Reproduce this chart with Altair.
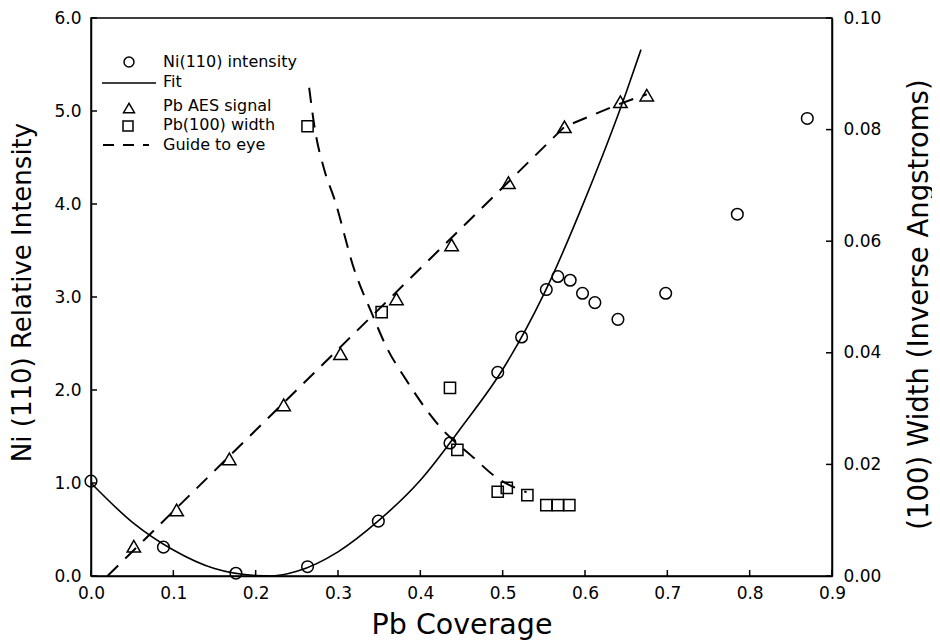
import altair as alt
import pandas as pd

# ---- data ----
ni_cov = [0.0, 0.088, 0.176, 0.263, 0.349, 0.436, 0.494, 0.523, 0.553, 0.567, 0.582, 0.597, 0.612, 0.640, 0.698, 0.785, 0.870]
ni_int = [1.02, 0.31, 0.03, 0.10, 0.59, 1.43, 2.19, 2.57, 3.08, 3.22, 3.18, 3.04, 2.94, 2.76, 3.04, 3.89, 4.92]

fit_cov = [0.0, 0.05, 0.10, 0.15, 0.20, 0.22, 0.25, 0.30, 0.35, 0.40, 0.45, 0.50, 0.55, 0.60, 0.65, 0.668]
fit_int = [1.0, 0.58, 0.28, 0.08, 0.005, 0.0, 0.05, 0.26, 0.60, 1.03, 1.60, 2.22, 3.03, 4.05, 5.20, 5.66]

aes_cov = [0.052, 0.104, 0.168, 0.234, 0.303, 0.371, 0.438, 0.507, 0.575, 0.643, 0.675]
aes_sig = [0.32, 0.71, 1.26, 1.84, 2.39, 2.98, 3.56, 4.23, 4.83, 5.10, 5.17]

aes_guide_cov = [0.02, 0.575, 0.643, 0.675]
aes_guide_sig = [0.0, 4.83, 5.08, 5.18]

w_cov = [0.263, 0.353, 0.436, 0.445, 0.494, 0.505, 0.530, 0.553, 0.567, 0.581]
w_val = [0.0806, 0.0473, 0.0337, 0.0226, 0.0151, 0.0158, 0.0145, 0.0127, 0.0127, 0.0127]

w_guide_cov = [0.265, 0.272, 0.283, 0.296, 0.320, 0.341, 0.359, 0.383, 0.424, 0.464, 0.492, 0.529]
w_guide_val = [0.0875, 0.080, 0.073, 0.0674, 0.0548, 0.0471, 0.041, 0.0351, 0.0267, 0.0213, 0.0177, 0.015]

x_ticks = [0.0, 0.1, 0.2, 0.3, 0.4, 0.5, 0.6, 0.7, 0.8, 0.9]
left_ticks = [0.0, 1.0, 2.0, 3.0, 4.0, 5.0, 6.0]
right_ticks = [0.0, 0.02, 0.04, 0.06, 0.08, 0.10]

legend_labels = ["Ni(110) intensity", "Fit", "Pb AES signal", "Pb(100) width", "Guide to eye"]

FONT = "DejaVu Sans"
W, H = 741, 558

xscale = alt.Scale(domain=[0, 0.9], nice=False, zero=False)
yl_scale = alt.Scale(domain=[0, 6], nice=False)
yr_scale = alt.Scale(domain=[0, 0.1], nice=False)

x_axis = alt.Axis(values=x_ticks, format=".1f", title="Pb Coverage", ticks=False, tickSize=0,
                  labelFlush=False, labelPadding=9, titleY=57, titleBaseline="alphabetic",
                  titleFontSize=28.5)
yl_axis = alt.Axis(values=left_ticks, format=".1f", title="Ni (110) Relative Intensity", ticks=False,
                   tickSize=0, labelFlush=False, labelPadding=10, titleX=-69, titleY=274, titleAngle=270,
                   titleBaseline="middle", titleAlign="center", titleFontSize=26)
yr_axis = alt.Axis(values=right_ticks, format=".2f", title="(100) Width (Inverse Angstroms)", orient="right",
                   ticks=False, tickSize=0, labelFlush=False, labelPadding=11, titleX=87, titleY=286,
                   titleAngle=270, titleBaseline="middle", titleAlign="center", titleFontSize=27.5)

ni_df = pd.DataFrame({"cov": ni_cov, "val": ni_int})
fit_df = pd.DataFrame({"cov": fit_cov, "val": fit_int})
aes_df = pd.DataFrame({"cov": aes_cov, "val": aes_sig})
aesg_df = pd.DataFrame({"cov": aes_guide_cov, "val": aes_guide_sig})
w_df = pd.DataFrame({"cov": w_cov, "val": w_val})
wg_df = pd.DataFrame({"cov": w_guide_cov, "val": w_guide_val})

X = alt.X("cov:Q", scale=xscale, axis=x_axis)
YL = alt.Y("val:Q", scale=yl_scale, axis=yl_axis)
YR = alt.Y("val:Q", scale=yr_scale, axis=yr_axis)

circles = alt.Chart(ni_df).mark_point(shape="circle", filled=False, color="black", size=135,
                                      strokeWidth=1.5, opacity=1).encode(x=X, y=YL)
fit = alt.Chart(fit_df).mark_line(color="black", strokeWidth=1.6, interpolate="monotone").encode(x=X, y=YL)
tris = alt.Chart(aes_df).mark_point(shape="triangle-up", filled=False, color="black", size=180,
                                    strokeWidth=1.5, opacity=1).encode(x=X, y=YL)
tri_guide = alt.Chart(aesg_df).mark_line(color="black", strokeWidth=2, strokeDash=[15, 10]).encode(x=X, y=YL)

# inward ticks (drawn through the same scales, sharing the same axes)
bt_df = pd.DataFrame({"cov": x_ticks})
bottom_ticks = alt.Chart(bt_df).mark_rule(color="black", strokeWidth=1.5).encode(
    x=X, y=alt.value(H), y2=alt.value(H - 6))
lt_df = pd.DataFrame({"val": left_ticks})
left_tick_marks = alt.Chart(lt_df).mark_rule(color="black", strokeWidth=1.5).encode(
    y=YL, x=alt.value(0), x2=alt.value(6))
rt_df = pd.DataFrame({"val": right_ticks})
right_tick_marks = alt.Chart(rt_df).mark_rule(color="black", strokeWidth=1.5).encode(
    y=YR, x=alt.value(W - 6), x2=alt.value(W))

# legend
leg_layers = []
text_y = [49, 69, 93, 112, 132]
for lab, ty in zip(legend_labels, text_y):
    leg_layers.append(
        alt.Chart(pd.DataFrame({"label": [lab]})).mark_text(
            align="left", baseline="alphabetic", font=FONT, fontSize=16, color="black"
        ).encode(x=alt.value(72), y=alt.value(ty), text="label:N")
    )
one = pd.DataFrame({"k": [0]})
leg_layers.append(alt.Chart(one).mark_point(shape="circle", filled=False, color="black", size=100,
                                            strokeWidth=1.5, opacity=1).encode(x=alt.value(38), y=alt.value(44)))
leg_layers.append(alt.Chart(one).mark_rule(color="black", strokeWidth=1.6).encode(
    x=alt.value(11), x2=alt.value(65), y=alt.value(65)))
leg_layers.append(alt.Chart(one).mark_point(shape="triangle-up", filled=False, color="black", size=120,
                                            strokeWidth=1.5, opacity=1).encode(x=alt.value(38), y=alt.value(90)))
leg_layers.append(alt.Chart(one).mark_point(shape="square", filled=False, color="black", size=100,
                                            strokeWidth=1.5, opacity=1).encode(x=alt.value(37), y=alt.value(108)))
leg_layers.append(alt.Chart(one).mark_rule(color="black", strokeWidth=2, strokeDash=[11, 9]).encode(
    x=alt.value(12), x2=alt.value(58), y=alt.value(127)))

squares = alt.Chart(w_df).mark_point(shape="square", filled=False, color="black", size=125,
                                     strokeWidth=1.5, opacity=1).encode(x=X, y=YR)
sq_guide = alt.Chart(wg_df).mark_line(color="black", strokeWidth=2, strokeDash=[15, 10],
                                      interpolate="monotone").encode(x=X, y=YR)

left = alt.layer(circles, fit, tris, tri_guide, bottom_ticks, left_tick_marks, *leg_layers)
right = alt.layer(squares, sq_guide, right_tick_marks)

chart = alt.layer(left, right).resolve_scale(y="independent").properties(
    width=W, height=H,
    padding={"left": 83, "top": 10, "right": 100, "bottom": 64},
    autosize=alt.AutoSizeParams(type="none"),
    background="white",
).configure_view(stroke="black", strokeWidth=1.5).configure_axis(
    labelFont=FONT, labelFontSize=17, labelColor="black",
    titleFont=FONT, titleFontWeight="normal", titleColor="black",
    domainColor="black", domainWidth=1.5, grid=False,
)

chart.save("out.html", embed_options={"renderer": "svg", "actions": False})
